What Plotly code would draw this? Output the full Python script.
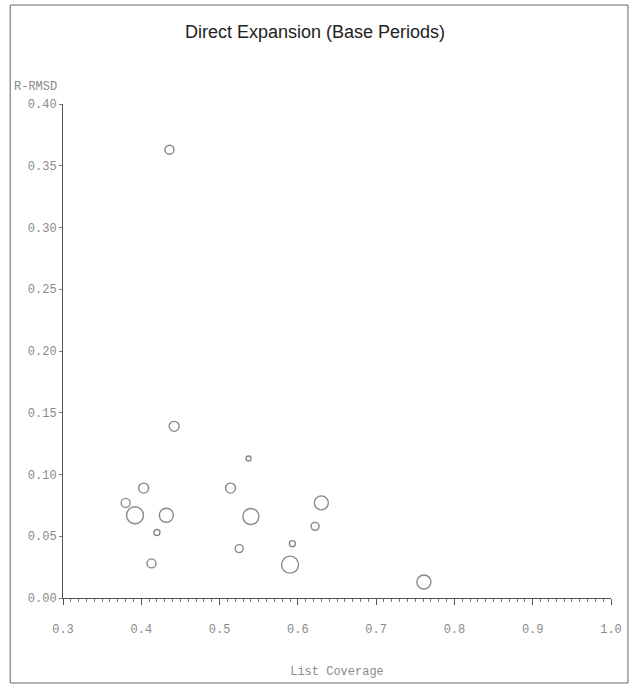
import plotly.graph_objects as go

# Data
list_coverage = [0.436, 0.442, 0.537, 0.403, 0.514, 0.380, 0.392, 0.432, 0.540,
                 0.630, 0.420, 0.622, 0.593, 0.525, 0.413, 0.590, 0.761]
r_rmsd = [0.363, 0.139, 0.113, 0.089, 0.089, 0.077, 0.067, 0.067, 0.066,
          0.077, 0.053, 0.058, 0.044, 0.040, 0.028, 0.027, 0.013]
bubble_size = [9, 10, 5, 10, 10, 9, 17, 14, 16, 14, 6, 8, 6, 8, 9, 17, 14]

x_ticks = [0.3, 0.4, 0.5, 0.6, 0.7, 0.8, 0.9, 1.0]
x_tick_text = ["0.3", "0.4", "0.5", "0.6", "0.7", "0.8", "0.9", "1.0"]
y_ticks = [0.00, 0.05, 0.10, 0.15, 0.20, 0.25, 0.30, 0.35, 0.40]
y_tick_text = ["0.00", "0.05", "0.10", "0.15", "0.20", "0.25", "0.30", "0.35", "0.40"]

fig = go.Figure()
fig.add_trace(go.Scatter(
    x=list_coverage, y=r_rmsd, mode="markers",
    marker=dict(symbol="circle-open", size=bubble_size, color="#555555",
                line=dict(width=1.4, color="#555555")),
    showlegend=False, hoverinfo="x+y",
))

tick_font = dict(family="Liberation Mono", size=12, color="#8a8a8a")

L, R, T, B = 63, 21, 104, 91
PW, PH = 634 - L - R, 689 - T - B

fig.update_layout(
    width=634, height=689, autosize=False,
    paper_bgcolor="white", plot_bgcolor="white",
    margin=dict(l=L, r=R, t=T, b=B),
    title=dict(text="Direct Expansion (Base Periods)", x=315 / 634, xanchor="center",
               y=1 - 32 / 689, yanchor="middle",
               font=dict(family="Liberation Sans", size=18, color="#222222")),
    xaxis=dict(range=[0.3, 1.0], tickmode="array", tickvals=x_ticks, ticktext=x_tick_text,
               showgrid=False, zeroline=False, showline=True, linecolor="#555555", linewidth=1,
               ticks="outside", ticklen=6, tickcolor="#555555", tickfont=tick_font,
               ticklabelstandoff=14,
               minor=dict(dtick=0.01, ticks="outside", ticklen=3, tickcolor="#777777"),
               title=dict(text="List Coverage", font=tick_font, standoff=30)),
    yaxis=dict(range=[0.0, 0.40], tickmode="array", tickvals=y_ticks, ticktext=y_tick_text,
               showgrid=False, zeroline=False, showline=True, linecolor="#555555", linewidth=1,
               ticks="outside", ticklen=3, tickcolor="#777777", tickfont=tick_font),
)

fig.add_annotation(text="R-RMSD", xref="paper", yref="paper", x=0, y=1,
                   xanchor="right", yanchor="bottom", xshift=-4, yshift=8,
                   showarrow=False, font=tick_font)

# outer frame around the whole picture (pixels 10..630 x 5..683)
fig.add_shape(type="rect", xref="paper", yref="paper",
              x0=(10 - L) / PW, x1=(630 - L) / PW,
              y0=-(683 - (689 - B)) / PH, y1=1 + (T - 5) / PH,
              line=dict(color="#666666", width=1))

fig.write_html("out.html",
               config={"responsive": False, "displayModeBar": False},
               post_script="document.body.style.margin='0';document.body.style.overflow='hidden';")
